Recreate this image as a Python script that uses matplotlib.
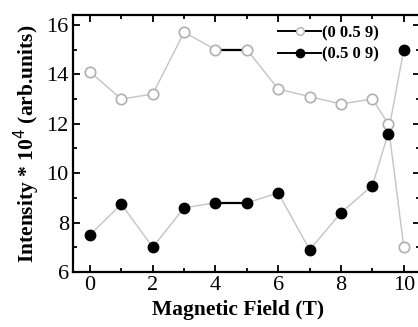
import matplotlib
matplotlib.use("Agg")
import matplotlib.pyplot as plt
from matplotlib.lines import Line2D
from matplotlib.ticker import MultipleLocator

field = [0, 1, 2, 3, 4, 5, 6, 7, 8, 9, 9.5, 10]
open_vals = [14.1, 13.0, 13.2, 15.7, 15.0, 15.0, 13.4, 13.1, 12.8, 13.0, 12.0, 7.0]
filled_vals = [7.5, 8.75, 7.0, 8.6, 8.8, 8.8, 9.2, 6.9, 8.4, 9.5, 11.6, 15.0]
labels = ["(0 0.5 9)", "(0.5 0 9)"]

plt.rcParams['font.family'] = ['Liberation Serif', 'DejaVu Serif']

fig = plt.figure(figsize=(4.18, 3.27), dpi=100)
ax = fig.add_axes([73/418, 1-272/327, (419.5-73)/418, (272-15)/327])

grey = '#c4c4c4'
ax.plot(field, open_vals, '-', color=grey, lw=1.0, zorder=1)
ax.plot(field, filled_vals, '-', color=grey, lw=1.0, zorder=1)
# black segment between 4 and 5
ax.plot(field[4:6], open_vals[4:6], '-', color='black', lw=1.6, zorder=2)
ax.plot(field[4:6], filled_vals[4:6], '-', color='black', lw=1.6, zorder=2)
ax.plot(field, open_vals, 'o', mfc='white', mec='#b0b0b0', mew=1.2, ms=7.5, ls='none', zorder=3)
ax.plot(field, filled_vals, 'o', mfc='black', mec='black', ms=7.5, ls='none', zorder=3)

ax.set_xlim(-0.54, 10.5)
ax.set_ylim(6, 16.4)
ax.xaxis.set_major_locator(MultipleLocator(2))
ax.xaxis.set_minor_locator(MultipleLocator(1))
ax.yaxis.set_major_locator(MultipleLocator(2))
ax.yaxis.set_minor_locator(MultipleLocator(1))
ax.tick_params(which='both', direction='in', top=True, right=True, labelsize=16, width=1.3, pad=3)
ax.tick_params(which='major', length=5)
ax.tick_params(which='minor', length=3)
for s in ax.spines.values():
    s.set_linewidth(1.6)

ax.set_xlabel('Magnetic Field (T)', fontsize=15.5, fontweight='bold', labelpad=0)
ax.xaxis.set_label_coords((238-73)/346.5, -0.108, transform=ax.transAxes)
ax.xaxis.label.set_verticalalignment('top')
ax.set_ylabel('Intensity * 10$^{4}$ (arb.units)', fontsize=15.5, fontweight='bold', labelpad=3)

handles = [
    Line2D([], [], color='black', lw=1.4, marker='o', mfc='white', mec='#b0b0b0', ms=5.5),
    Line2D([], [], color='black', lw=1.4, marker='o', mfc='black', mec='black', ms=6),
]
ax.legend(handles, labels, loc='upper left', bbox_to_anchor=((268-73)/346.5, 1.0), frameon=False,
          handlelength=2.6, handletextpad=0.05, labelspacing=0.35, borderaxespad=0.3, borderpad=0.3,
          prop={'weight': 'bold', 'size': 12})

fig.savefig('out.png', dpi=100)
